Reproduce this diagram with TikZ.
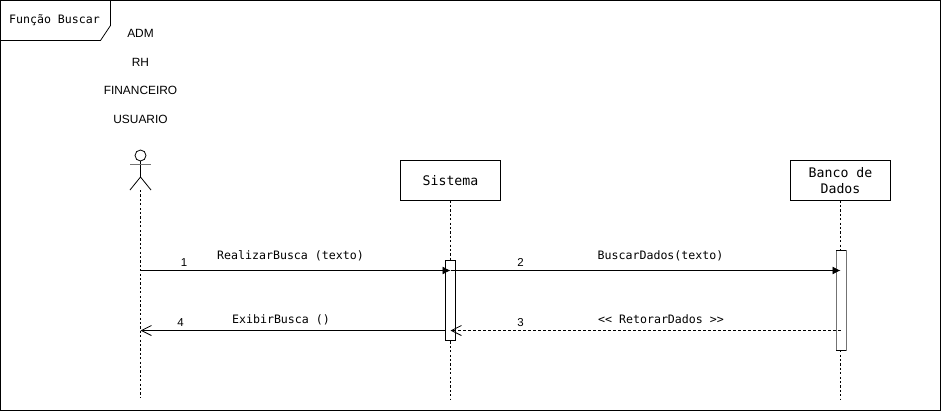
\documentclass[tikz,border=0pt]{standalone}
\usepackage{fontspec}
\setmainfont{Liberation Sans}
\newfontfamily\umlmono{DejaVu Sans Mono}
\usetikzlibrary{arrows.meta}
\tikzset{
  every path/.style={line width=0.8pt},
  lifeline/.style={draw=black,dash pattern=on 2.2pt off 2.2pt,line width=0.8pt},
  objbox/.style={draw=black,fill=white,minimum width=100pt,minimum height=40pt,inner sep=0pt,outer sep=0pt,align=center,font=\umlmono\fontsize{13.2}{16}\selectfont},
  act/.style={draw=black,fill=white,minimum width=10pt,inner sep=0pt,outer sep=0pt},
  acttwo/.style={draw=black!55,fill=white,minimum width=10pt,inner sep=0pt,outer sep=0pt},
  msg/.style={font=\umlmono\fontsize{11.6}{14}\selectfont,inner sep=0pt,anchor=center},
  num/.style={font=\fontsize{11.5}{14}\selectfont,inner sep=0pt,anchor=center},
  role/.style={font=\fontsize{11.9}{14}\selectfont,inner sep=0pt,anchor=center},
  syncmsg/.style={draw=black,-{Latex[length=8pt,width=8pt]}},
  retmsg/.style={draw=black,-{Straight Barb[length=10pt,width=10pt,line width=0.8pt]}},
  retdash/.style={draw=black,dash pattern=on 3pt off 2pt,-{Straight Barb[length=10pt,width=10pt,line width=0.8pt]}},
}
\begin{document}
\begin{tikzpicture}[x=1pt,y=-1pt]
\useasboundingbox (0,0) rectangle (942,412);
\fill[white] (0,0) rectangle (942,412);
% frame
\draw[black] (0.5,0.5) rectangle (940.5,410.5);
\draw[black] (0.5,40.5) -- (100.5,40.5) -- (110.5,25.5) -- (110.5,0.5);
\node[msg] (frametitle) at (54.5,20) {Função Buscar};
% roles
\node[role] (adm) at (140.5,33.5) {ADM};
\node[role] (rh) at (140.5,62) {RH};
\node[role] (fin) at (140.5,90.5) {FINANCEIRO};
\node[role] (usu) at (140.5,119.5) {USUARIO};
% actor
\draw[black] (140.5,155.5) circle (5.5);
\draw[black] (140.5,161) -- (140.5,177);
\draw[black!55] (130,164) -- (151,164);
\draw[black] (130,190) -- (140.5,177) -- (151,190);
\coordinate (actorfoot) at (140.5,190);
\coordinate (actorend) at (140.5,398);
\coordinate (sisend) at (450.5,400);
\coordinate (banend) at (840.5,400);
% objects
\node[objbox] (sis) at (450.5,180.5) {Sistema};
\node[objbox] (ban) at (840.5,180.5) {Banco de\\Dados};
% lifelines
\draw[lifeline] (actorfoot) -- (actorend);
\draw[lifeline] (sis.south) -- (sisend);
\draw[lifeline] (ban.south) -- (banend);
% activations
\node[act,minimum height=80pt] (a1) at (450.5,300.5) {};
\node[acttwo,minimum height=100pt] (a2) at (841,300.5) {};
\draw[black] (a2.north west) -- (a2.north east);
\draw[black] (a2.south west) -- (a2.south east);
% message anchors
\coordinate (m1s) at (140.5,270.5);
\coordinate (m1e) at (450.5,270.5);
\coordinate (m2s) at (450.5,270.5);
\coordinate (m2e) at (840.5,270.5);
\coordinate (m3s) at (840.5,330.5);
\coordinate (m3e) at (450.5,330.5);
\coordinate (m4s) at (445.5,330.5);
\coordinate (m4e) at (140.5,330.5);
\draw[syncmsg] (m1s) -- (m1e);
\draw[syncmsg] (m2s) -- (m2e);
\draw[retdash] (m3s) -- (m3e);
\draw[retmsg] (m4s) -- (m4e);
% labels
\node[msg] (l1) at (290.5,255.5) {RealizarBusca (texto)};
\node[msg] (l2) at (660.5,255.5) {BuscarDados(texto)};
\node[msg] (l3) at (661,319.5) {<{}< RetorarDados >{}>};
\node[msg] (l4) at (281,319.5) {ExibirBusca ()};
\node[num] (n1) at (184,262.5) {1};
\node[num] (n2) at (520.5,262.5) {2};
\node[num] (n3) at (520.5,322.5) {3};
\node[num] (n4) at (180.5,322.5) {4};
\end{tikzpicture}
\end{document}
